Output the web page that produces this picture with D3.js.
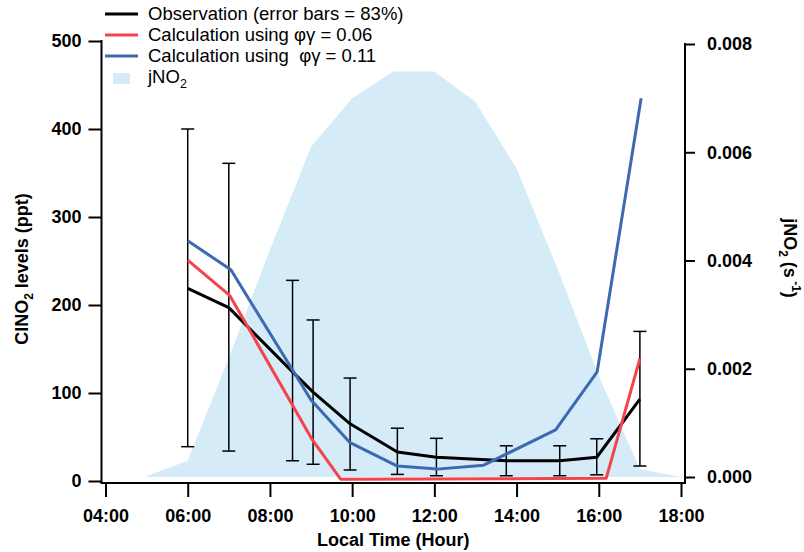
<!DOCTYPE html>
<html lang="en">
<head>
<meta charset="UTF-8">
<title>ClNO2 levels - observation vs calculation</title>
<script src="https://d3js.org/d3.v7.min.js"></script>
<style>
  html, body {margin: 0; height: 100%; overflow: hidden; background: #fff}
  svg text {font-family: Arial, 'Liberation Sans', sans-serif; fill: #000}
  .tick text {font-size: 18px; font-weight: bold}
  .tick line {stroke: #000; stroke-width: 2}
  .leg {font-size: 18.5px; white-space: pre}
  .ttl {font-size: 18px; font-weight: bold}
</style>
</head>
<body>
<svg id="chart" width="804" height="552"></svg>
<script>
// observation, ppt (error bars = 83%)
const obsHours  = [6, 7, 8.55, 9.05, 9.95, 11.1, 12.05, 13.75, 15.05, 15.95, 17];
const obsValues = [219, 197, 124, 101, 65, 33, 27, 23, 23, 27, 93];
const obsLow    = [39, 34, 23, 19, 12.5, 7.5, 6, 6, 6, 7, 17];
const obsHigh   = [400, 361, 228, 183, 117, 60, 48.5, 40, 40, 48, 170];

// calculation, phi gamma = 0.06
const calc06Hours  = [6, 7.02, 9.03, 9.72, 16.18, 17];
const calc06Values = [251, 211, 47, 2, 3, 139];

// calculation, phi gamma = 0.11
const calc11Hours  = [6, 7.05, 9, 9.95, 11.1, 12.07, 13.2, 14.95, 15.96, 17.03];
const calc11Values = [273, 240, 92, 43.5, 17, 13.5, 18, 58, 124, 435];

// jNO2, s-1
const jHours  = [5, 6, 7, 8, 9, 10, 11, 12, 13, 14, 15, 16, 17, 18];
const jValues = [0.00002, 0.0003, 0.0022, 0.0042, 0.0061, 0.0070, 0.00749, 0.00749,
                 0.00693, 0.0057, 0.00384, 0.00187, 0.00015, 0];

const xTicks = [4, 6, 8, 10, 12, 14, 16, 18];
const yTicks = [0, 100, 200, 300, 400, 500];
const jTicks = [0, 0.002, 0.004, 0.006, 0.008];

const RED = "#f4434a", BLUE = "#3d69b1", SKY = "#d5ebf8";

let svg = d3.select("#chart");

let x = d3.scaleLinear().domain([4, 18]).range([105.5, 681]);
let y = d3.scaleLinear().domain([0, 500]).range([481, 41]);
let yj = d3.scaleLinear().domain([0, 0.008]).range([477, 44]);

const axL = 101.5, axR = 685, axB = 483;

// jNO2 area
svg.append("path")
    .datum(d3.zip(jHours, jValues))
    .attr("fill", SKY)
    .attr("d", d3.area().x(d => x(d[0])).y0(yj(0)).y1(d => yj(d[1])));

// error bars
let eb = svg.append("g").attr("stroke", "#000").attr("stroke-width", 1.5);
obsHours.forEach((h, i) => {
    let cx = x(h);
    eb.append("line").attr("x1", cx).attr("x2", cx).attr("y1", y(obsLow[i])).attr("y2", y(obsHigh[i]));
    [obsLow[i], obsHigh[i]].forEach(v => {
        eb.append("line").attr("x1", cx - 6.5).attr("x2", cx + 6.5).attr("y1", y(v)).attr("y2", y(v));
    });
});

let line = d3.line().x(d => x(d[0])).y(d => y(d[1]));
[[obsHours, obsValues, "#000"], [calc06Hours, calc06Values, RED], [calc11Hours, calc11Values, BLUE]]
    .forEach(s => {
        svg.append("path")
            .datum(d3.zip(s[0], s[1]))
            .attr("fill", "none")
            .attr("stroke", s[2])
            .attr("stroke-width", 3)
            .attr("stroke-linejoin", "round")
            .attr("d", line);
    });

// axes
let gl = svg.append("g").attr("transform", `translate(${axL},0)`)
    .call(d3.axisLeft(y).tickValues(yTicks).tickSize(13).tickPadding(7).tickSizeOuter(0));
let gr = svg.append("g").attr("transform", `translate(${axR},0)`)
    .call(d3.axisRight(yj).tickValues(jTicks).tickSize(10).tickPadding(12).tickSizeOuter(0)
        .tickFormat(d3.format(".3f")));
let gb = svg.append("g").attr("transform", `translate(0,${axB})`)
    .call(d3.axisBottom(x).tickValues(xTicks).tickSize(14).tickPadding(12).tickSizeOuter(0)
        .tickFormat(d => String(d).padStart(2, "0") + ":00"));
[gl, gr, gb].forEach(g => g.select(".domain").remove());

let frame = svg.append("g").attr("stroke", "#000").attr("stroke-width", 2);
frame.append("line").attr("x1", axL).attr("x2", axL).attr("y1", y(500) - 1).attr("y2", axB);
frame.append("line").attr("x1", axR).attr("x2", axR).attr("y1", yj(0.008) - 1).attr("y2", axB);
frame.append("line").attr("x1", axL - 1).attr("x2", axR + 1).attr("y1", axB).attr("y2", axB);

// axis titles
let tl = svg.append("text").attr("class", "ttl").attr("text-anchor", "middle")
    .attr("transform", "translate(27.5,269) rotate(-90)");
tl.append("tspan").text("ClNO");
tl.append("tspan").attr("font-size", "12px").attr("dy", 5).text("2");
tl.append("tspan").attr("dy", -5).text(" levels (ppt)");

let tr = svg.append("text").attr("class", "ttl").attr("text-anchor", "middle")
    .attr("transform", "translate(784,258) rotate(90)");
tr.append("tspan").text("jNO");
tr.append("tspan").attr("font-size", "12px").attr("dy", 5).text("2");
tr.append("tspan").attr("dy", -5).text(" (s");
tr.append("tspan").attr("font-size", "12px").attr("dy", -8).text(" -1");
tr.append("tspan").attr("dy", 8).text(")");

svg.append("text").attr("class", "ttl").attr("text-anchor", "middle")
    .attr("x", (axL + axR) / 2).attr("y", 546).text("Local Time (Hour)");

// legend
const legNames = ["Observation (error bars = 83%)", "Calculation using \u03c6\u03b3 = 0.06",
                  "Calculation using  \u03c6\u03b3 = 0.11"];
const legColors = ["#000", RED, BLUE];
const legY = [14, 35, 56, 77];
legNames.forEach((n, i) => {
    svg.append("line").attr("x1", 105).attr("x2", 138).attr("y1", legY[i]).attr("y2", legY[i])
        .attr("stroke", legColors[i]).attr("stroke-width", 3);
    svg.append("text").attr("class", "leg").attr("x", 148).attr("y", legY[i]).attr("dy", "0.35em").text(n);
});
svg.append("rect").attr("x", 113).attr("y", legY[3] - 4).attr("width", 17).attr("height", 11).attr("fill", SKY);
let lj = svg.append("text").attr("class", "leg").attr("x", 148).attr("y", legY[3]).attr("dy", "0.35em");
lj.append("tspan").text("jNO");
lj.append("tspan").attr("font-size", "12.5px").attr("dy", 5).text("2");
</script>
</body>
</html>
